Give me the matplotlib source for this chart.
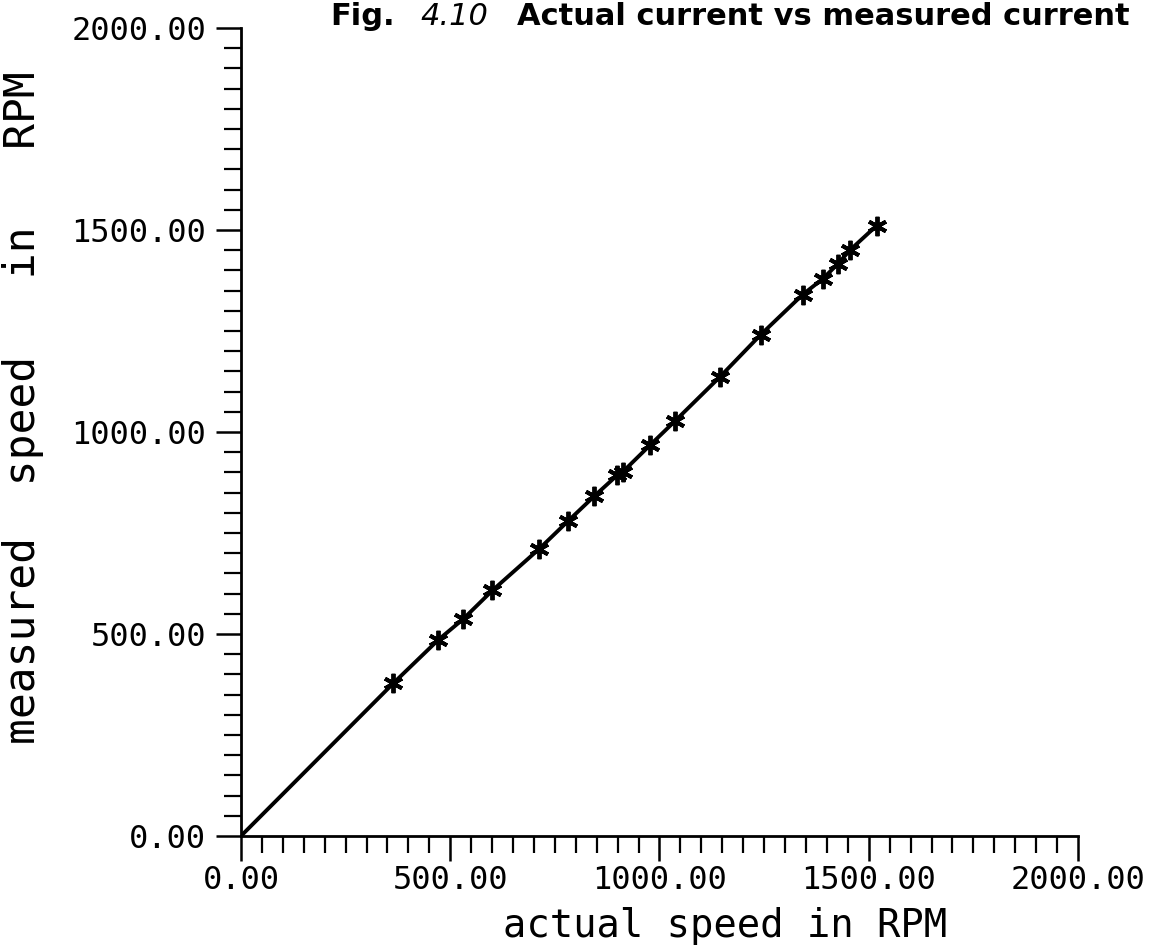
import matplotlib
matplotlib.use("Agg")
import matplotlib.pyplot as plt
from matplotlib.ticker import MultipleLocator, FormatStrFormatter

# data
actual_speed = [364, 471, 531, 601, 713, 782, 844, 899, 912, 977, 1037,
                1145, 1242, 1342, 1390, 1427, 1455, 1519]
measured_speed = [378, 485, 537, 608, 711, 780, 841, 893, 901, 967, 1027,
                  1137, 1241, 1340, 1379, 1417, 1450, 1511]
line_start = [0]
major_ticks = [0, 500, 1000, 1500, 2000]

fig = plt.figure(figsize=(11.58, 9.49), dpi=100)
ax = fig.add_axes([0.2081, 0.1191, 0.7228, 0.8514])

ax.plot(line_start + actual_speed, line_start + measured_speed,
        color="black", lw=2.8, solid_capstyle="round")
ax.plot(actual_speed, measured_speed, linestyle="none", marker=(6, 2, 0),
        ms=14, mew=2.8, color="black")

ax.set_xlim(0, 2000)
ax.set_ylim(0, 2000)
ax.set_xticks(major_ticks)
ax.set_yticks(major_ticks)
ax.xaxis.set_minor_locator(MultipleLocator(50))
ax.yaxis.set_minor_locator(MultipleLocator(50))
ax.xaxis.set_major_formatter(FormatStrFormatter("%.2f"))
ax.yaxis.set_major_formatter(FormatStrFormatter("%.2f"))

for s in ["top", "right"]:
    ax.spines[s].set_visible(False)
for s in ["left", "bottom"]:
    ax.spines[s].set_linewidth(2.0)

ax.tick_params(which="major", direction="out", length=18, width=1.8,
               labelsize=23, colors="black")
ax.tick_params(which="minor", direction="out", length=12.5, width=1.6)
ax.tick_params(axis="x", which="major", pad=3)
ax.tick_params(axis="y", which="major", pad=7)
for lab in ax.get_xticklabels() + ax.get_yticklabels():
    lab.set_fontfamily("DejaVu Sans Mono")

ax.set_xlabel("actual speed in RPM", family="DejaVu Sans Mono", fontsize=28)
ax.xaxis.set_label_coords(0.578, -0.088)
ax.set_ylabel("measured  speed   in   RPM", family="DejaVu Sans Mono", fontsize=31)
ax.yaxis.set_label_coords(-0.235, 0.53)

fig.text(330 / 1158, 1 - 25 / 949, "Fig.", fontsize=22, fontweight="bold",
         family="DejaVu Sans", ha="left", va="baseline")
fig.text(420 / 1158, 1 - 25 / 949, "4.10", fontsize=22, style="italic",
         family="DejaVu Sans", ha="left", va="baseline")
fig.text(517 / 1158, 1 - 25 / 949, "Actual current vs measured current",
         fontsize=22, fontweight="bold", family="DejaVu Sans",
         ha="left", va="baseline")

fig.savefig("out.png", dpi=100, facecolor="white")
